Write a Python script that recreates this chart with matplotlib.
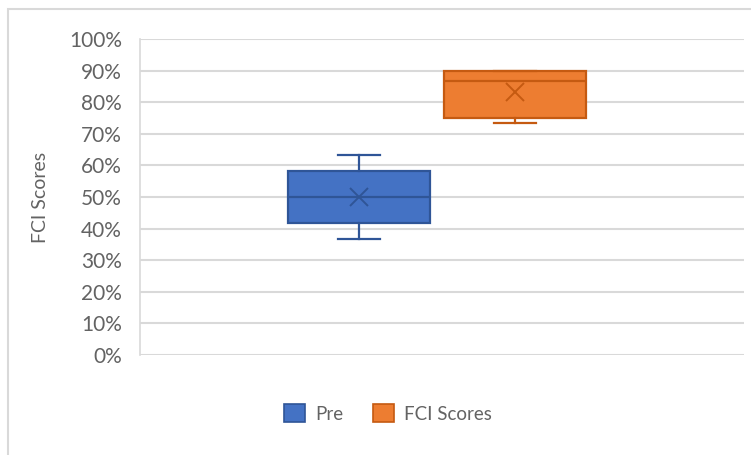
import matplotlib.pyplot as plt
from matplotlib.patches import Rectangle, Patch

# five-number summaries (fractions of 30 items) plus means
series = ['Pre', 'FCI Scores']
mins = [11 / 30, 22 / 30]
q1s = [12.5 / 30, 22.5 / 30]
medians = [15 / 30, 26 / 30]
q3s = [17.5 / 30, 27 / 30]
maxs = [19 / 30, 27 / 30]
means = [15 / 30, 25 / 30]

fills = ['#4472C4', '#ED7D31']
edges = ['#2F5597', '#C55A11']
positions = [0.3626, 0.621]

plt.rcParams['font.family'] = ['Lato', 'DejaVu Sans']

fig = plt.figure(figsize=(7.51, 4.55), dpi=100)
ax = fig.add_axes([0.1864, 0.2198, 0.8043, 0.6945])

# chart frame
fig.patches.append(Rectangle((8 / 751, -0.05), 1.2, 1 - 9 / 455 + 0.05,
                             transform=fig.transFigure, fill=False,
                             edgecolor='#d9d9d9', linewidth=1.5, zorder=0))

for i in range(len(series)):
    stats = [{'whislo': mins[i], 'q1': q1s[i], 'med': medians[i],
              'q3': q3s[i], 'whishi': maxs[i], 'mean': means[i],
              'fliers': [], 'label': series[i]}]
    ax.bxp(stats, positions=[positions[i]], widths=0.235, patch_artist=True,
           showmeans=True, meanline=False, manage_ticks=False,
           boxprops=dict(facecolor=fills[i], edgecolor=edges[i], linewidth=1.6),
           medianprops=dict(color=edges[i], linewidth=1.6),
           whiskerprops=dict(color=edges[i], linewidth=1.6),
           capprops=dict(color=edges[i], linewidth=1.6),
           capwidths=0.07,
           meanprops=dict(marker='x', markersize=13, markeredgecolor=edges[i],
                          markeredgewidth=1.4))

ax.set_xlim(0, 1)
ax.set_ylim(0, 1)
ax.set_yticks([i / 10 for i in range(11)])
ax.set_yticklabels([f'{i * 10}%' for i in range(11)])
ax.set_xticks([])
ax.yaxis.grid(True, color='#d9d9d9', linewidth=1.5)
ax.set_axisbelow(True)
for side in ['top', 'right', 'bottom']:
    ax.spines[side].set_visible(False)
ax.spines['left'].set_color('#d9d9d9')
ax.spines['left'].set_linewidth(1.2)
ax.tick_params(axis='y', length=0, labelsize=15, labelcolor='#636363', pad=13)
ax.set_ylabel('FCI Scores', fontsize=14, color='#636363', labelpad=14)

handles = [Patch(facecolor=fills[i], edgecolor=edges[i], linewidth=1.2)
           for i in range(len(series))]
fig.legend(handles, series, loc='center', bbox_to_anchor=(0.517, 0.091),
           ncol=2, frameon=False, fontsize=13.5, labelcolor='#636363',
           handlelength=1.1, handleheight=1.1, handletextpad=0.55,
           columnspacing=1.6)

fig.savefig('out.png', dpi=100)
